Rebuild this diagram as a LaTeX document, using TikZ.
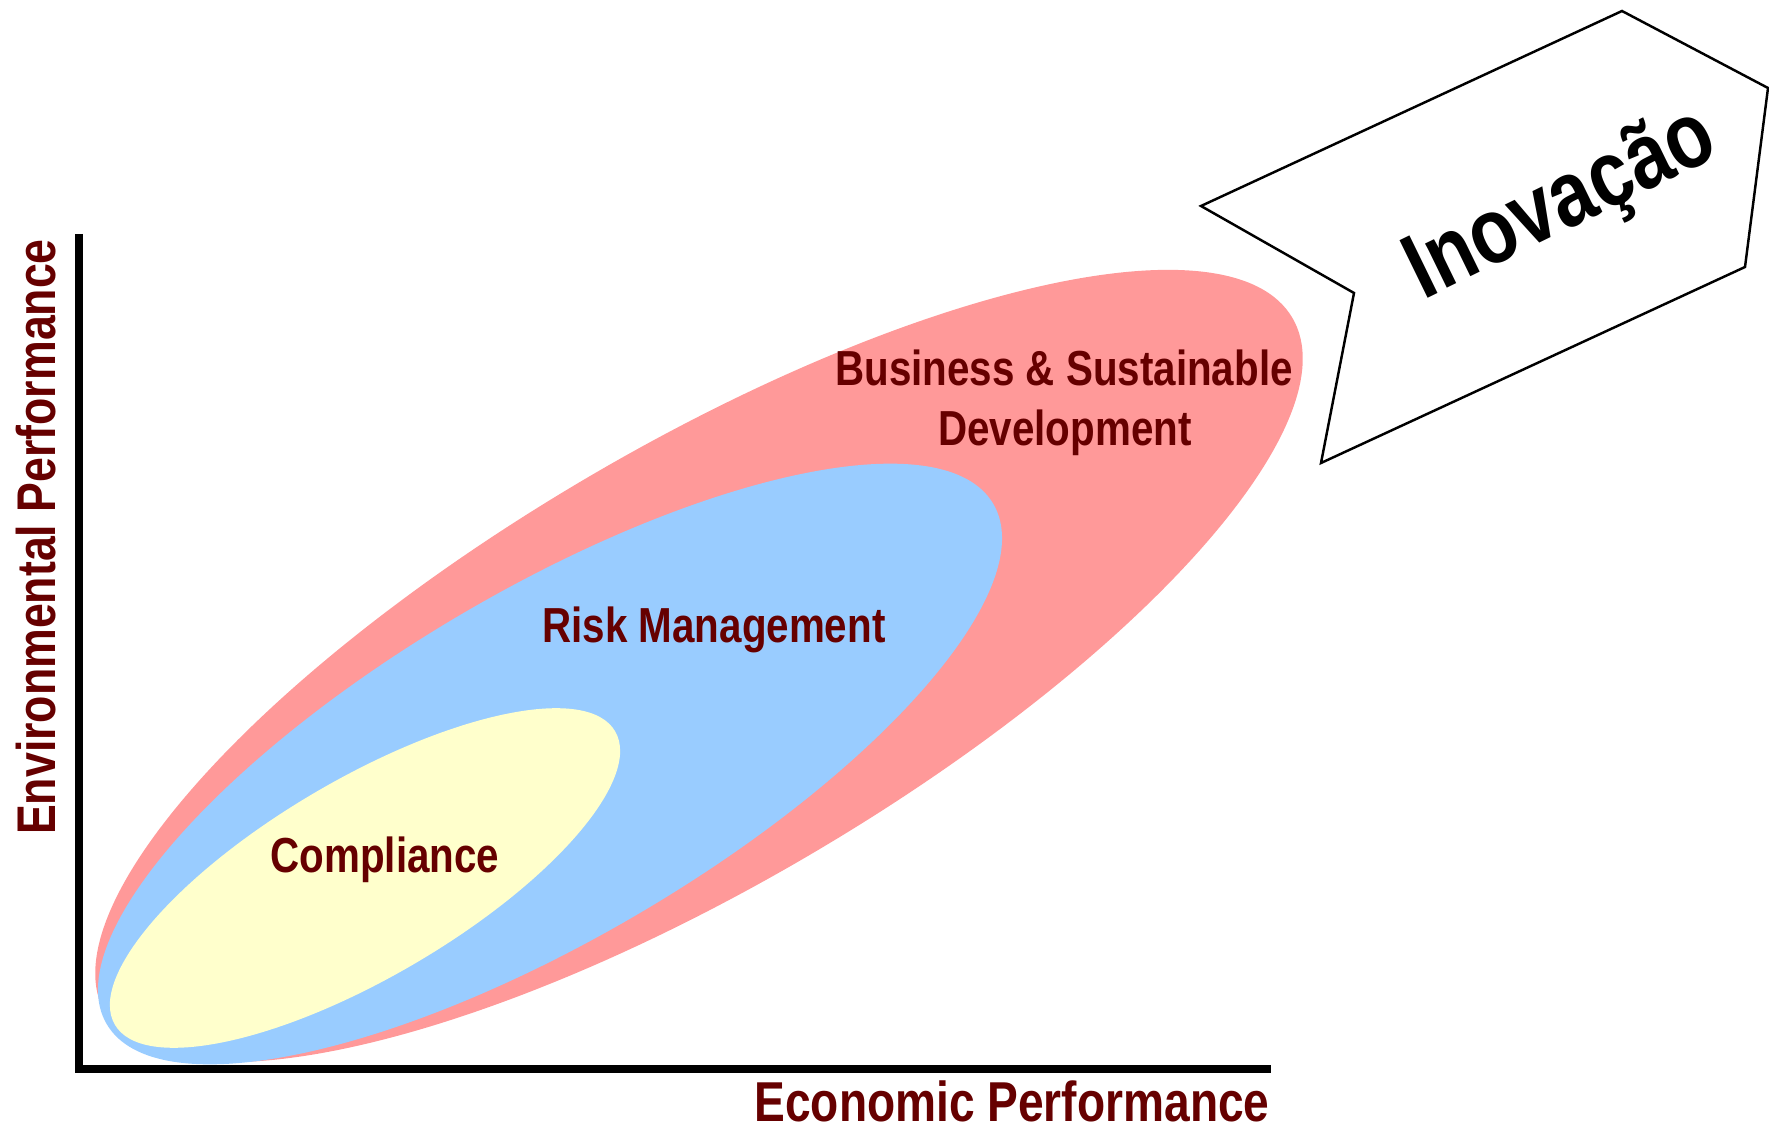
\documentclass[tikz,border=0pt]{standalone}
\usepackage{fontspec}
\usepackage{tikz}
\newfontfamily\narrowsans[FakeStretch=0.82]{Liberation Sans}

\definecolor{ellipsered}{RGB}{255,153,153}
\definecolor{ellipseblue}{RGB}{153,204,255}
\definecolor{ellipseyellow}{RGB}{255,255,204}
\definecolor{labelred}{RGB}{102,0,0}

\begin{document}
\begin{tikzpicture}
\useasboundingbox (0,0) rectangle (17.69,11.28);

\foreach \cx/\cy/\rx/\ry/\tint in {6.99/4.62/6.88/2.19/ellipsered, 5.50/3.64/5.14/1.74/ellipseblue, 3.65/2.50/2.90/0.99/ellipseyellow}
{
        \fill[\tint, rotate around={30.4:(\cx,\cy)}] (\cx,\cy) ellipse (\rx cm and \ry cm);
}

% axes
\coordinate (origin) at (0.79,0.59);
\coordinate (ytop) at (0.79,8.94);
\coordinate (xend) at (12.71,0.59);
\draw[line width=2.3pt] (ytop) -- (origin) -- (xend);

\node[anchor=base,text=labelred,font=\narrowsans\bfseries\fontsize{16}{18}\selectfont] (xlabel) at (10.12,0.07) {Economic Performance};
\node[anchor=base,rotate=90,text=labelred,font=\narrowsans\bfseries\fontsize{15.5}{18}\selectfont] (ylabel) at (0.55,5.91) {Environmental Performance};

\node[anchor=base,text=labelred,font=\narrowsans\bfseries\fontsize{14}{16}\selectfont] (bsd1) at (10.64,7.42) {Business \& Sustainable};
\node[anchor=base,text=labelred,font=\narrowsans\bfseries\fontsize{14}{16}\selectfont] (bsd2) at (10.65,6.82) {Development};
\node[anchor=base,text=labelred,font=\narrowsans\bfseries\fontsize{14}{16}\selectfont] (risk) at (7.14,4.85) {Risk Management};
\node[anchor=base,text=labelred,font=\narrowsans\bfseries\fontsize{14}{16}\selectfont] (compliance) at (3.85,2.56) {Compliance};

% arrow
\draw[line width=0.7pt,fill=white] (16.22,11.17) -- (17.68,10.40) -- (17.45,8.61) -- (13.21,6.65) -- (13.54,8.35) -- (12.01,9.22) -- cycle;
\node[rotate=26,font=\narrowsans\bfseries\fontsize{26.5}{29}\selectfont] (innov) at (15.62,9.22) {Inovação};
\end{tikzpicture}
\end{document}
